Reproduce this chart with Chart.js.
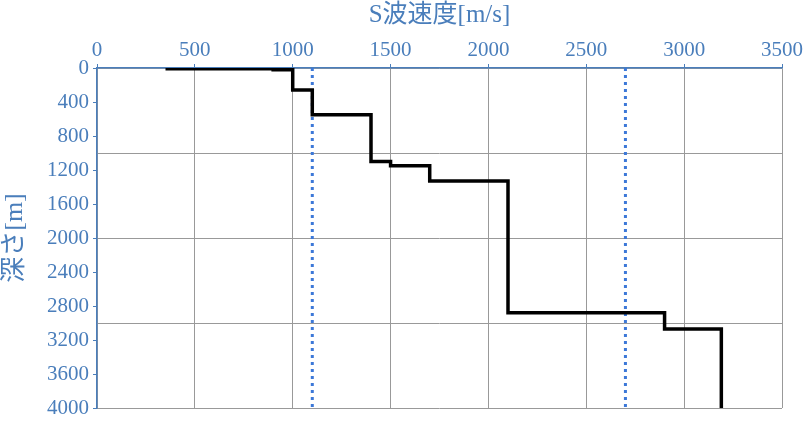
<!DOCTYPE html><html><head><meta charset="utf-8"><script src="https://cdn.jsdelivr.net/npm/chart.js@4"></script>
<style>body{margin:0;background:#fff}#w{width:810px;height:426px}</style></head><body><div id="w"><canvas id="c"></canvas></div><script>
const velocity=[350,900,900,1000,1000,1100,1100,1400,1400,1500,1500,1700,1700,2100,2100,2900,2900,3190,3190];
const depth=[10,10,20,20,260,260,550,550,1100,1100,1150,1150,1330,1330,2880,2880,3070,3070,4000];
const refVel=[1100,2700];
const xTicks=[0,500,1000,1500,2000,2500,3000,3500];
const yTicks=[0,400,800,1200,1600,2000,2400,2800,3200,3600,4000];
const blue='#4a7ebb';
const ds=[{data:velocity.map((v,i)=>({x:v,y:depth[i]})),showLine:true,borderColor:'#000',borderWidth:3.5,pointRadius:0,fill:false}];
refVel.forEach(v=>ds.push({data:[{x:v,y:0},{x:v,y:4000}],showLine:true,borderColor:'#3c78d8',borderWidth:3,borderDash:[3,4],pointRadius:0}));
const f={family:'Liberation Serif',size:21};
new Chart(document.getElementById('c'),{type:'scatter',data:{datasets:ds},options:{responsive:true,maintainAspectRatio:false,animation:false,
layout:{padding:{right:28,bottom:18,left:0,top:0}},
plugins:{legend:{display:false},tooltip:{enabled:false}},
scales:{
x:{type:'linear',position:'top',min:0,max:3500,afterBuildTicks:a=>{a.ticks=xTicks.map(v=>({value:v}))},
 ticks:{color:blue,font:f,padding:1,callback:v=>String(v)},grid:{color:'#999',drawTicks:true,tickLength:4,tickColor:blue},border:{color:blue,width:1.5},
 title:{display:true,text:'S波速度[m/s]',color:blue,font:{family:'Liberation Serif, Noto Sans CJK JP',size:25},padding:{top:0,bottom:0}},
 afterFit:a=>{a.height=68}},
y:{type:'linear',reverse:true,min:0,max:4000,afterBuildTicks:a=>{a.ticks=yTicks.map(v=>({value:v}))},
 ticks:{color:blue,font:f,padding:4,callback:v=>String(v)},grid:{display:true,drawOnChartArea:false,tickLength:4,tickColor:blue},border:{color:blue,width:1.5},
 title:{display:true,text:'深さ[m]',color:blue,font:{family:'Liberation Serif, Noto Sans CJK JP',size:26},padding:{top:0,bottom:0}},
 afterFit:a=>{a.width=97}},
y2:{type:'linear',reverse:true,min:0,max:4000,display:true,position:'left',ticks:{display:false,stepSize:1000},grid:{color:'#999',drawTicks:false},border:{display:false},afterFit:a=>{a.width=0}}
}}});
</script></body></html>
